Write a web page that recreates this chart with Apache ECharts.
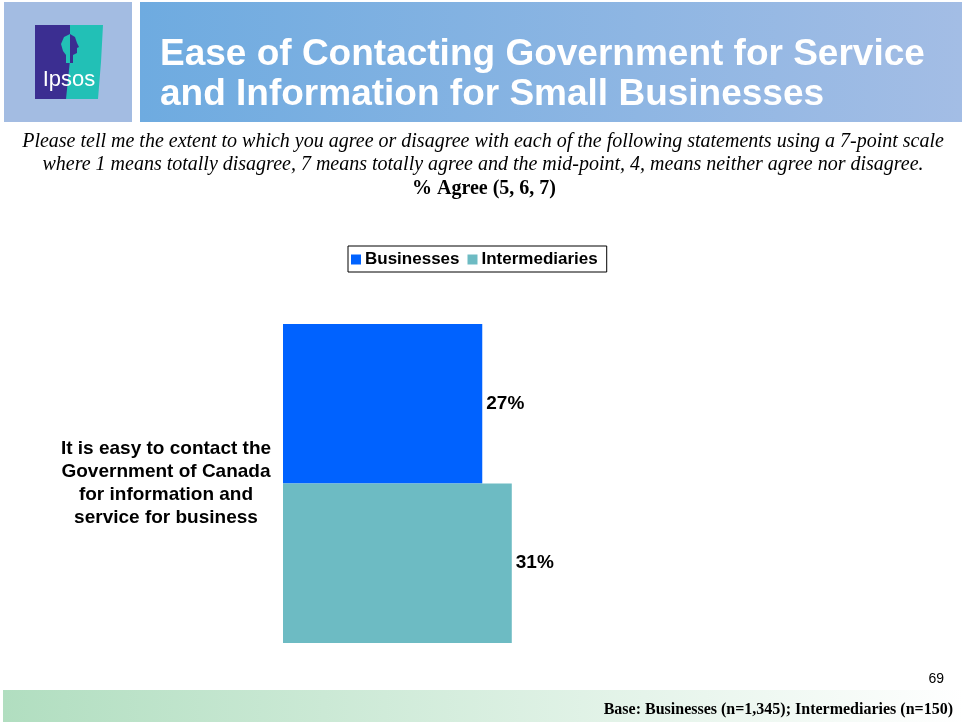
<!DOCTYPE html>
<html>
<head>
<meta charset="utf-8">
<script src="https://cdn.jsdelivr.net/npm/echarts@6/dist/echarts.min.js"></script>
<style>
  html, body { margin: 0; padding: 0; background: #fff; }
  #chart { width: 964px; height: 724px; }
</style>
</head>
<body>
<div id="chart"></div>
<script>
// Survey statement and share agreeing (5, 6, 7 on a 7-point scale)
const categories = ['It is easy to contact the\nGovernment of Canada\nfor information and\nservice for business'];
const seriesNames = ['Businesses', 'Intermediaries'];
const businesses = [27];
const intermediaries = [31];

const chart = echarts.init(document.getElementById('chart'), null, { renderer: 'canvas' });

const sans = 'Arial, "Liberation Sans", sans-serif';
const serif = '"Liberation Serif", "Times New Roman", serif';

const labelStyle = {
  show: true,
  position: 'right',
  distance: 4,
  formatter: '{c}%',
  color: '#000',
  fontFamily: sans,
  fontWeight: 'bold',
  fontSize: 19
};

const option = {
  backgroundColor: '#ffffff',
  animation: false,
  graphic: [
    // logo panel
    { type: 'rect', shape: { x: 4, y: 2, width: 128, height: 120 }, style: { fill: '#a3bce2' } },
    { type: 'rect', shape: { x: 35, y: 25, width: 35, height: 74 }, style: { fill: '#3b2e91' } },
    { type: 'polygon', shape: { points: [[70, 25], [103, 25], [101, 62], [98, 99], [66, 99], [70, 60]] }, style: { fill: '#22c0b6' } },
    // head silhouette: teal on the purple half, purple on the teal half
    { type: 'polygon', shape: { points: [[70, 34], [64, 37], [61, 44], [63, 51], [66, 55], [66, 63], [70, 63]] }, style: { fill: '#22c0b6' } },
    { type: 'polygon', shape: { points: [[70, 34], [75, 37], [77, 43], [79, 47], [77, 48], [77, 53], [73, 55], [73, 63], [70, 63]] }, style: { fill: '#3b2e91' } },
    { type: 'text', style: { text: 'Ipsos', x: 69, y: 80, align: 'center', verticalAlign: 'middle', fill: '#ffffff', font: '22px "Liberation Sans Narrow", "Liberation Sans", Arial, sans-serif' } },
    // title panel
    {
      type: 'rect', shape: { x: 140, y: 2, width: 822, height: 120 },
      style: {
        fill: new echarts.graphic.LinearGradient(0, 0, 1, 0, [
          { offset: 0, color: '#6eabe0' },
          { offset: 1, color: '#a3bde5' }
        ])
      }
    },
    { type: 'text', style: { text: 'Ease of Contacting Government for Service', x: 160, y: 55, verticalAlign: 'middle', fill: '#ffffff', font: 'bold 37px ' + sans } },
    { type: 'text', style: { text: 'and Information for Small Businesses', x: 160, y: 95, verticalAlign: 'middle', fill: '#ffffff', font: 'bold 37px ' + sans } },
    // question wording
    { type: 'text', style: { text: 'Please tell me the extent to which you agree or disagree with each of the following statements using a 7-point scale', x: 483, y: 142, align: 'center', verticalAlign: 'middle', fill: '#000', font: 'italic 20px ' + serif } },
    { type: 'text', style: { text: 'where 1 means totally disagree, 7 means totally agree and the mid-point, 4, means neither agree nor disagree.', x: 483, y: 165, align: 'center', verticalAlign: 'middle', fill: '#000', font: 'italic 20px ' + serif } },
    { type: 'text', style: { text: '% Agree (5, 6, 7)', x: 484, y: 189, align: 'center', verticalAlign: 'middle', fill: '#000', font: 'bold 20px ' + serif } },
    // footer
    {
      type: 'rect', shape: { x: 3, y: 690, width: 961, height: 32 },
      style: {
        fill: new echarts.graphic.LinearGradient(0, 0, 1, 0, [
          { offset: 0, color: '#b1dec0' },
          { offset: 1, color: '#ffffff' }
        ])
      }
    },
    { type: 'text', style: { text: '69', x: 944, y: 679, align: 'right', verticalAlign: 'middle', fill: '#000', font: '14px ' + sans } },
    { type: 'text', style: { text: 'Base: Businesses (n=1,345); Intermediaries (n=150)', x: 953, y: 710, align: 'right', verticalAlign: 'middle', fill: '#000', font: 'bold 16px ' + serif } }
  ],
  legend: {
    data: seriesNames,
    top: 246,
    left: 348,
    orient: 'horizontal',
    padding: [5, 9, 4, 3],
    itemGap: 8,
    itemWidth: 10,
    itemHeight: 10,
    icon: 'rect',
    borderColor: '#000',
    borderWidth: 1,
    borderRadius: 0,
    textStyle: {
      color: '#000',
      fontFamily: sans,
      fontWeight: 'bold',
      fontSize: 17,
      padding: [0, 0, 0, -1]
    }
  },
  grid: { left: 283, top: 324, width: 369, height: 319, containLabel: false },
  xAxis: {
    type: 'value',
    min: 0,
    max: 50,
    show: false
  },
  yAxis: {
    type: 'category',
    data: categories,
    inverse: true,
    axisLine: { show: false },
    axisTick: { show: false },
    axisLabel: {
      align: 'center',
      margin: 117,
      padding: [4, 0, 0, 0],
      color: '#000',
      fontFamily: sans,
      fontWeight: 'bold',
      fontSize: 19,
      lineHeight: 23
    }
  },
  series: [
    {
      name: seriesNames[0],
      type: 'bar',
      data: businesses,
      itemStyle: { color: '#0062ff' },
      barGap: '0%',
      barCategoryGap: '0%',
      label: labelStyle
    },
    {
      name: seriesNames[1],
      type: 'bar',
      data: intermediaries,
      itemStyle: { color: '#6dbbc3' },
      barGap: '0%',
      barCategoryGap: '0%',
      label: labelStyle
    }
  ]
};

chart.setOption(option);
</script>
</body>
</html>
